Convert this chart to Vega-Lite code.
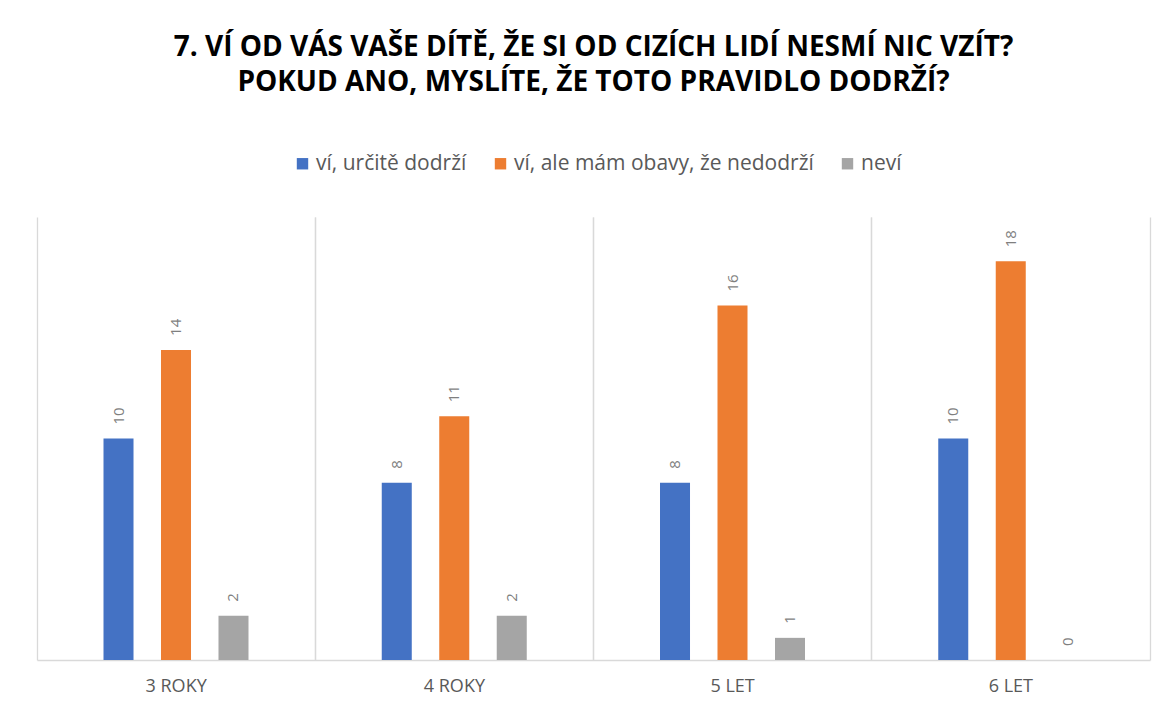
{
  "$schema": "https://vega.github.io/schema/vega-lite/v6.json",
  "autosize": "none",
  "width": 1113,
  "height": 443,
  "padding": {"left": 37, "top": 217, "right": 19, "bottom": 48},
  "background": "white",
  "title": {
    "text": ["7. VÍ OD VÁS VAŠE DÍTĚ, ŽE SI OD CIZÍCH LIDÍ NESMÍ NIC VZÍT?", "POKUD ANO, MYSLÍTE, ŽE TOTO PRAVIDLO DODRŽÍ?"],
    "font": "Open Sans",
    "fontSize": 28,
    "fontWeight": "bold",
    "color": "#000000",
    "anchor": "middle",
    "frame": "group",
    "lineHeight": 35,
    "offset": 56
  },
  "config": {
    "view": {"stroke": null},
    "font": "Open Sans"
  },
  "data": {
    "values": [
      {"group": "3 ROKY", "series": "ví, určitě dodrží", "value": 10},
      {"group": "3 ROKY", "series": "ví, ale mám obavy, že nedodrží", "value": 14},
      {"group": "3 ROKY", "series": "neví", "value": 2},
      {"group": "4 ROKY", "series": "ví, určitě dodrží", "value": 8},
      {"group": "4 ROKY", "series": "ví, ale mám obavy, že nedodrží", "value": 11},
      {"group": "4 ROKY", "series": "neví", "value": 2},
      {"group": "5 LET", "series": "ví, určitě dodrží", "value": 8},
      {"group": "5 LET", "series": "ví, ale mám obavy, že nedodrží", "value": 16},
      {"group": "5 LET", "series": "neví", "value": 1},
      {"group": "6 LET", "series": "ví, určitě dodrží", "value": 10},
      {"group": "6 LET", "series": "ví, ale mám obavy, že nedodrží", "value": 18},
      {"group": "6 LET", "series": "neví", "value": 0}
    ]
  },
  "encoding": {
    "x": {
      "field": "group",
      "type": "nominal",
      "sort": ["3 ROKY", "4 ROKY", "5 LET", "6 LET"],
      "scale": {"paddingInner": 0, "paddingOuter": 0}
    },
    "xOffset": {
      "field": "series",
      "type": "nominal",
      "sort": ["ví, určitě dodrží", "ví, ale mám obavy, že nedodrží", "neví"],
      "scale": {"range": [66.5, 211.5], "paddingInner": 0.478, "paddingOuter": 0}
    },
    "y": {
      "field": "value",
      "type": "quantitative",
      "scale": {"domain": [0, 20], "nice": false},
      "axis": null
    }
  },
  "layer": [
    {
      "mark": {"type": "bar"},
      "encoding": {
        "x": {
          "field": "group",
          "type": "nominal",
          "sort": ["3 ROKY", "4 ROKY", "5 LET", "6 LET"],
          "axis": {
            "title": null,
            "labelAngle": 0,
            "labelFont": "Open Sans",
            "labelFontSize": 18,
            "labelColor": "#595959",
            "labelPadding": 17,
            "ticks": false,
            "domainColor": "#d9d9d9",
            "domainWidth": 1.3,
            "grid": true,
            "gridColor": "#d9d9d9",
            "gridWidth": 1.3,
            "bandPosition": 0
          }
        },
        "color": {
          "field": "series",
          "type": "nominal",
          "sort": ["ví, určitě dodrží", "ví, ale mám obavy, že nedodrží", "neví"],
          "scale": {"range": ["#4472C4", "#ED7D31", "#A5A5A5"]},
          "legend": {
            "title": null,
            "orient": "none",
            "direction": "horizontal",
            "legendX": 255,
            "legendY": -64,
            "symbolType": "square",
            "symbolSize": 130,
            "symbolStrokeWidth": 0,
            "labelFont": "Open Sans",
            "labelFontSize": 21,
            "labelColor": "#595959",
            "labelLimit": 500,
            "columnPadding": 23,
            "labelOffset": 3
          }
        }
      }
    },
    {
      "mark": {"type": "text", "angle": 270, "align": "left", "baseline": "middle", "dx": 14, "fontSize": 15, "font": "Open Sans", "color": "#7f7f7f"},
      "encoding": {
        "x": {
          "field": "group",
          "type": "nominal",
          "sort": ["3 ROKY", "4 ROKY", "5 LET", "6 LET"],
          "axis": {
            "orient": "top",
            "title": null,
            "labels": false,
            "ticks": false,
            "domain": false,
            "grid": true,
            "gridColor": "#d9d9d9",
            "gridWidth": 1.3,
            "bandPosition": 1
          }
        },
        "text": {"field": "value", "type": "quantitative"}
      }
    }
  ],
  "resolve": {"axis": {"x": "independent"}}
}
